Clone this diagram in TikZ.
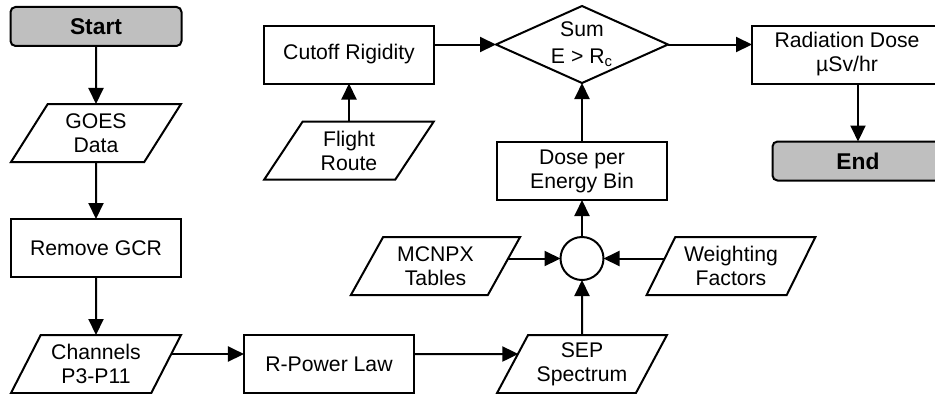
\documentclass[tikz,border=0pt]{standalone}
\usepackage{fontspec}
\setmainfont{Liberation Sans}
\usepackage{tikz}
\usetikzlibrary{positioning,arrows.meta,shapes.geometric,backgrounds}
\newcommand{\chartfont}{\fontsize{10.6}{12}\selectfont}
\tikzset{
  term/.style={draw, rounded corners=2.5pt, fill=black!25, minimum height=19.5pt, minimum width=85.5pt, font=\fontsize{11.4}{12}\selectfont\bfseries, inner sep=1pt, outer sep=0pt},
  proc/.style={draw, fill=white, minimum height=29pt, minimum width=85pt, font=\chartfont, align=center, inner sep=1pt, outer sep=0pt},
  io/.style={draw, fill=white, trapezium, trapezium left angle=60, trapezium right angle=120, trapezium stretches=true, minimum height=29pt, minimum width=85pt, font=\chartfont, align=center, inner sep=1pt, outer sep=0pt},
  dec/.style={draw, fill=white, diamond, aspect=2.2, minimum width=86pt, minimum height=38.5pt, font=\fontsize{10.6}{13.5}\selectfont, align=center, inner sep=0pt, outer sep=0pt},
  junc/.style={draw, fill=white, circle, minimum size=21.5pt, inner sep=0pt, outer sep=0pt},
  flow/.style={-{Triangle[length=8pt, width=7.5pt]}, line width=1pt},
}
\begin{document}
\begin{tikzpicture}[x=0.5pt, y=-0.5pt, line width=1pt]
\useasboundingbox (0,0) rectangle (935,394);
% left column
\node[term] (start) at (96,26.5) {Start};
\node[io, below=29pt of start] (goes) {GOES\\Data};
\node[proc, below=28.5pt of goes] (gcr) {Remove GCR};
\node[io, below=29pt of gcr] (chan) {Channels\\P3-P11};
% bottom row and middle column
\node[proc, right=74pt of chan.center] (rpow) {R-Power Law};
\node[io, right=84pt of rpow.east, anchor=center] (sep) {SEP\\Spectrum};
\node[junc, above=27.5pt of sep] (mix) {};
\node[io, left=73.25pt of mix.north, anchor=north] (mcnpx) {MCNPX\\Tables};
\node[io, right=74.5pt of mix.north, anchor=north] (wf) {Weighting\\Factors};
\node[proc, above=18.5pt of mix] (dose) {Dose per\\Energy Bin};
\node[dec, above=29.5pt of dose] (sum) {Sum\\E > R\textsubscript{c}};
% top row
\node[proc, left=31pt of sum.west, yshift=-5pt] (cut) {Cutoff Rigidity};
\node[io, below=19pt of cut] (route) {Flight\\Route};
\node[proc, minimum width=95pt, right=42pt of sum.east, yshift=-5pt] (rad) {Radiation Dose\\µSv/hr};
\node[term, below=29pt of rad, xshift=5.5pt] (stop) {End};
\begin{scope}[on background layer]
\draw[flow] (start) -- (goes);
\draw[flow] (goes) -- (gcr);
\draw[flow] (gcr) -- (chan);
\draw[flow] ([yshift=5pt]chan.center) -- ([yshift=5pt]rpow.west);
\draw[flow] ([yshift=5pt]rpow.center) -- ([shift={(2.9pt,5pt)}]sep.west);
\draw[flow] (sep) -- (mix);
\draw[flow] (mcnpx.center |- mix.center) -- (mix.west);
\draw[flow] (wf.center |- mix.center) -- (mix.east);
\draw[flow] (mix) -- (dose);
\draw[flow] (dose) -- (sum);
\draw[flow] (route.north) -- (route.north |- cut.south);
\draw[flow] (cut.east |- sum.west) -- (sum.west);
\draw[flow] (sum.east) -- (sum.east -| rad.west);
\draw[flow] (rad.south -| stop.north) -- (stop.north);
\end{scope}
\end{tikzpicture}
\end{document}
